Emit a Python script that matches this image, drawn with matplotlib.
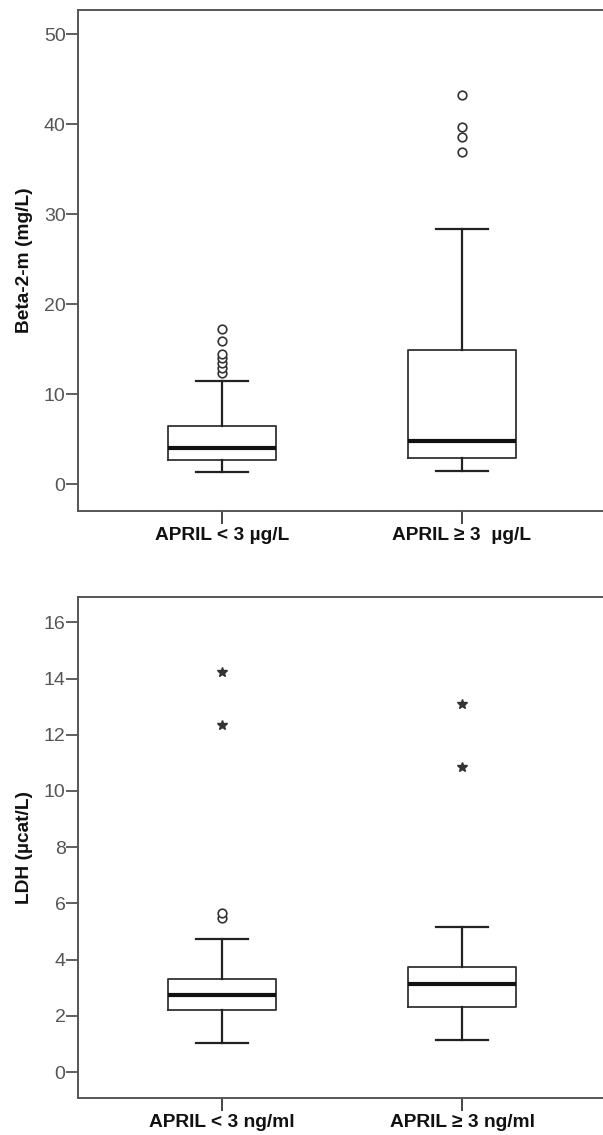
import matplotlib
matplotlib.use("Agg")
from matplotlib import pyplot as plt

plt.rcParams['font.family'] = ['Liberation Sans', 'DejaVu Sans']

# Top panel: Beta-2-m by APRIL group
b2m_groups = ['APRIL < 3 µg/L', 'APRIL \u2265 3  µg/L']
b2m_whislo = [1.3, 1.4]
b2m_q1 = [2.7, 2.9]
b2m_med = [4.0, 4.8]
b2m_q3 = [6.4, 14.9]
b2m_whishi = [11.5, 28.3]
b2m_outliers = [[12.3, 12.9, 13.4, 14.0, 14.4, 15.9, 17.2],
                [36.9, 38.6, 39.7, 43.3]]
b2m_extremes = [[], []]

# Bottom panel: LDH by APRIL group
ldh_groups = ['APRIL < 3 ng/ml', 'APRIL \u2265 3 ng/ml']
ldh_whislo = [1.05, 1.15]
ldh_q1 = [2.2, 2.3]
ldh_med = [2.75, 3.15]
ldh_q3 = [3.3, 3.75]
ldh_whishi = [4.75, 5.15]
ldh_outliers = [[5.5, 5.65], []]
ldh_extremes = [[12.35, 14.25], [10.85, 13.1]]

W, H = 603, 1135
fig = plt.figure(figsize=(W / 100, H / 100), dpi=100)
fig.set_facecolor('white')


def panel(rect, groups, lo, q1, med, q3, hi, outl, extr, ylim, yticks, ylabel):
    l, t, r, b = rect
    ax = fig.add_axes([l / W, 1 - b / H, (r - l) / W, (b - t) / H])
    stats = []
    for i in range(len(groups)):
        stats.append(dict(whislo=lo[i], q1=q1[i], med=med[i], q3=q3[i],
                          whishi=hi[i], fliers=[]))
    ax.bxp(stats, positions=[1, 2], widths=0.45, capwidths=0.22,
           patch_artist=False, showfliers=False,
           boxprops=dict(color='#333333', linewidth=1.3),
           medianprops=dict(color='#111111', linewidth=3.0, solid_capstyle='butt'),
           whiskerprops=dict(color='#222222', linewidth=1.6),
           capprops=dict(color='#222222', linewidth=1.6))
    for i in range(len(groups)):
        if outl[i]:
            ax.plot([i + 1] * len(outl[i]), outl[i], linestyle='none', marker='o',
                    markersize=6.2, markerfacecolor='white',
                    markeredgecolor='#333333', markeredgewidth=1.2)
        if extr[i]:
            ax.plot([i + 1] * len(extr[i]), extr[i], linestyle='none', marker='*',
                    markersize=7, color='#333333')
    ax.set_xlim(0.4, 2.6)
    ax.set_ylim(*ylim)
    ax.set_yticks(yticks)
    ax.set_xticks([1, 2])
    ax.set_xticklabels(groups, fontsize=13.8, fontweight='bold', color='#111111')
    ax.tick_params(axis='y', direction='out', length=9, width=1.2, color='#444444',
                   labelsize=14, labelcolor='#555555', pad=0)
    ax.tick_params(axis='x', direction='out', length=9.5, width=1.4, color='#444444', pad=2)
    ax.set_ylabel(ylabel, fontsize=13.8, fontweight='bold', color='#111111', labelpad=8)
    for s in ax.spines.values():
        s.set_color('#555555')
        s.set_linewidth(1.4)
    ax.spines['right'].set_visible(False)
    return ax


panel((78, 10, 606, 511), b2m_groups, b2m_whislo, b2m_q1, b2m_med, b2m_q3,
      b2m_whishi, b2m_outliers, b2m_extremes, (-3.0, 52.7),
      [0, 10, 20, 30, 40, 50], 'Beta-2-m (mg/L)')

panel((78, 597, 606, 1098), ldh_groups, ldh_whislo, ldh_q1, ldh_med, ldh_q3,
      ldh_whishi, ldh_outliers, ldh_extremes, (-0.92, 16.9),
      [0, 2, 4, 6, 8, 10, 12, 14, 16], 'LDH (µcat/L)')

fig.savefig('out.png', dpi=100, facecolor='white')
